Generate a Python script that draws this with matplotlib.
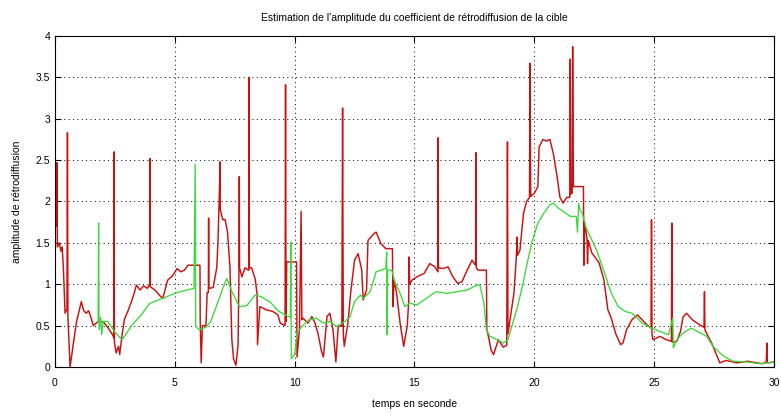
import numpy as np
import matplotlib
matplotlib.use("Agg")
import matplotlib.pyplot as plt

plt.rcParams['font.family'] = ['Liberation Sans', 'DejaVu Sans']

# amplitude estimate (raw), red trace
t_raw = [0.00, 0.03, 0.06, 0.08, 0.10, 0.18, 0.25, 0.30, 0.35, 0.42, 0.50, 0.52, 0.54,
         0.63, 0.75, 0.90, 1.10, 1.20, 1.30, 1.40, 1.50, 1.60, 1.80, 2.00, 2.20, 2.40,
         2.46, 2.47, 2.48, 2.55, 2.65, 2.70, 2.80, 2.90, 3.05, 3.20, 3.30, 3.40, 3.55,
         3.70, 3.85, 3.96, 3.97, 3.98, 4.17, 4.38, 4.50, 4.70, 4.90, 5.10, 5.25, 5.40,
         5.55, 5.76, 6.05, 6.06, 6.10, 6.15, 6.30, 6.35, 6.40, 6.41, 6.42, 6.60, 6.75,
         6.80, 6.87, 6.88, 6.90, 7.00, 7.10, 7.20, 7.30, 7.38, 7.45, 7.55, 7.64, 7.68,
         7.69, 7.70, 7.80, 7.93, 8.07, 8.09, 8.10, 8.11, 8.20, 8.35, 8.43, 8.45, 8.55,
         8.83, 9.10, 9.30, 9.40, 9.60, 9.62, 9.64, 9.67, 10.08, 10.10, 10.20, 10.27,
         10.30, 10.35, 10.55, 10.72, 10.85, 10.97, 11.12, 11.20, 11.35, 11.47, 11.60,
         11.72, 11.82, 11.97, 12.00, 12.03, 12.07, 12.22, 12.35, 12.50, 12.65, 12.80,
         12.86, 13.00, 13.06, 13.30, 13.40, 13.60, 13.80, 14.08, 14.10, 14.15, 14.25,
         14.40, 14.55, 14.70, 14.76, 14.77, 14.80, 14.90, 15.10, 15.40, 15.64, 15.85,
         15.98, 15.99, 16.00, 16.20, 16.40, 16.60, 16.80, 16.98, 17.20, 17.40, 17.55,
         17.56, 17.58, 17.65, 18.00, 18.02, 18.10, 18.20, 18.30, 18.50, 18.70, 18.85,
         18.88, 18.90, 19.00, 19.15, 19.25, 19.28, 19.30, 19.40, 19.55, 19.68, 19.80,
         19.82, 19.85, 20.00, 20.15, 20.20, 20.36, 20.50, 20.65, 20.80, 20.95, 21.07,
         21.20, 21.35, 21.48, 21.50, 21.52, 21.58, 21.60, 21.63, 22.05, 22.07, 22.10,
         22.20, 22.22, 22.25, 22.40, 22.70, 22.90, 23.07, 23.20, 23.40, 23.60, 23.70,
         23.85, 24.07, 24.30, 24.50, 24.70, 24.87, 24.89, 24.91, 24.95, 25.24, 25.50,
         25.72, 25.74, 25.76, 25.95, 26.10, 26.20, 26.35, 26.60, 26.90, 27.08, 27.10,
         27.12, 27.20, 27.40, 27.60, 27.74, 28.00, 28.45, 28.90, 29.10, 29.50, 29.68,
         29.70, 29.72, 30.00]
a_raw = [1.90, 1.98, 1.70, 2.47, 1.45, 1.50, 1.40, 1.45, 1.20, 0.65, 0.70, 2.83, 0.60,
         0.00, 0.25, 0.55, 0.79, 0.68, 0.65, 0.68, 0.60, 0.50, 0.55, 0.55, 0.48, 0.39,
         0.35, 2.60, 0.30, 0.17, 0.25, 0.15, 0.39, 0.58, 0.68, 0.80, 0.89, 0.99, 0.93,
         0.98, 0.95, 1.00, 2.52, 0.97, 0.93, 0.86, 0.83, 1.05, 1.10, 1.19, 1.15, 1.17,
         1.23, 1.23, 1.23, 0.55, 0.05, 0.50, 0.50, 0.90, 0.90, 1.80, 0.95, 0.96, 1.20,
         1.50, 2.22, 2.48, 1.90, 1.78, 1.78, 1.63, 1.21, 0.33, 0.10, 0.02, 0.27, 1.23,
         2.30, 1.20, 1.09, 1.20, 1.17, 1.17, 3.50, 1.20, 1.20, 1.07, 0.89, 0.27, 0.73,
         0.69, 0.67, 0.63, 0.53, 0.50, 3.41, 0.55, 1.27, 1.27, 0.12, 0.45, 1.88,
         0.57, 0.59, 0.53, 0.61, 0.53, 0.41, 0.19, 0.12, 0.61, 0.65, 0.45,
         0.06, 0.50, 0.49, 3.13, 0.40, 0.25, 0.53, 0.93, 1.29, 1.37, 1.17,
         0.81, 0.93, 1.53, 1.61, 1.63, 1.49, 1.43, 1.43, 0.73, 1.05, 0.90,
         0.53, 0.25, 0.50, 0.80, 1.33, 1.00, 1.05, 1.09, 1.13, 1.25, 1.21,
         1.15, 2.77, 1.20, 1.19, 1.21, 1.09, 1.01, 1.03, 1.17, 1.29, 1.23,
         2.59, 1.20, 1.17, 1.17, 0.45, 0.35, 0.20, 0.15, 0.33, 0.24, 0.26,
         2.72, 0.40, 0.60, 0.89, 1.33, 1.57, 1.35, 1.41, 1.86, 2.00, 2.05,
         3.67, 2.06, 2.10, 2.18, 2.66, 2.75, 2.73, 2.75, 2.57, 2.30, 2.05,
         1.98, 2.05, 2.05, 3.72, 2.09, 2.10, 3.87, 2.18, 2.18, 1.23, 1.75,
         1.55, 1.25, 1.53, 1.38, 1.26, 1.06, 0.69, 0.60, 0.40, 0.27, 0.29,
         0.45, 0.57, 0.63, 0.57, 0.51, 0.47, 1.78, 0.40, 0.33, 0.37, 0.33,
         0.31, 1.74, 0.30, 0.31, 0.43, 0.60, 0.65, 0.57, 0.51, 0.48, 0.91,
         0.45, 0.40, 0.29, 0.15, 0.05, 0.08, 0.05, 0.07, 0.06, 0.04, 0.06,
         0.29, 0.05, 0.06]

# filtered estimate, green trace
t_filt = [1.80, 1.82, 1.84, 1.90, 1.95, 2.00, 2.20, 2.50, 2.80, 3.20, 3.60, 3.96, 4.50,
          5.09, 5.50, 5.80, 5.85, 5.87, 6.00, 6.30, 6.50, 6.88, 7.00, 7.17, 7.40, 7.70,
          8.00, 8.35, 8.60, 9.00, 9.30, 9.67, 9.82, 9.84, 9.86, 10.00, 10.10, 10.30,
          10.60, 10.90, 11.20, 11.47, 11.75, 12.00, 12.30, 12.50, 12.75, 12.86, 13.15,
          13.40, 13.80, 13.84, 13.86, 13.88, 14.05, 14.20, 14.40, 14.60, 14.80, 15.10,
          15.50, 15.90, 16.35, 16.76, 17.20, 17.60, 17.73, 17.90, 17.95, 18.00, 18.15,
          18.45, 18.70, 18.90, 19.10, 19.30, 19.50, 19.70, 19.90, 20.15, 20.40, 20.65,
          20.80, 21.00, 21.20, 21.50, 21.75, 21.80, 21.85, 21.90, 22.00, 22.15, 22.20,
          22.60, 22.95, 23.20, 23.50, 23.80, 24.07, 24.30, 24.50, 24.90, 25.24, 25.60,
          25.78, 25.80, 25.95, 26.20, 26.55, 26.80, 27.20, 27.45, 27.90, 28.30, 28.90,
          29.40, 30.00]
a_filt = [0.55, 1.74, 0.45, 0.60, 0.39, 0.55, 0.55, 0.42, 0.33, 0.50, 0.63, 0.77, 0.83,
          0.90, 0.93, 0.95, 2.45, 0.50, 0.45, 0.48, 0.55, 0.85, 0.95, 1.07, 0.90, 0.73,
          0.74, 0.87, 0.85, 0.78, 0.68, 0.62, 0.60, 1.51, 0.10, 0.15, 0.41, 0.49,
          0.57, 0.59, 0.53, 0.55, 0.49, 0.53, 0.60, 0.79, 0.87, 0.83, 0.91,
          1.15, 1.19, 1.39, 0.39, 1.17, 1.17, 1.01, 0.89, 0.73, 0.77, 0.75,
          0.83, 0.91, 0.89, 0.91, 0.93, 0.99, 0.99, 0.77, 0.61, 0.45, 0.37,
          0.33, 0.29, 0.33, 0.53, 0.73, 0.97, 1.25, 1.51, 1.74, 1.86, 1.96,
          1.98, 1.92, 1.88, 1.82, 1.82, 1.63, 1.98, 1.90, 1.86, 1.69, 1.66,
          1.41, 1.12, 0.90, 0.73, 0.67, 0.65, 0.59, 0.53, 0.47, 0.43, 0.39,
          0.59, 0.23, 0.33, 0.41, 0.47, 0.43, 0.37, 0.25, 0.13, 0.07, 0.06,
          0.04, 0.06]

fig = plt.figure(figsize=(7.81, 4.16), dpi=100)
ax = fig.add_axes([0.0704, 0.1178, 0.9206, 0.7957])

ax.plot(t_raw, a_raw, color='#cc1010', lw=1.05)
ax.plot(t_filt, a_filt, color='#3ad83a', lw=0.95)

ax.set_xlim(0, 30)
ax.set_ylim(0, 4)
ax.set_xticks(np.arange(0, 31, 5))
ax.set_yticks(np.arange(0, 4.01, 0.5))
ax.set_yticklabels(['0', '0.5', '1', '1.5', '2', '2.5', '3', '3.5', '4'])
ax.tick_params(direction='in', top=True, right=True, labelsize=7.5, length=4, width=0.8)
ax.tick_params(axis='x', pad=8)
ax.grid(True, color='black', linestyle=(0, (1, 3.5)), linewidth=0.7)
for s in ax.spines.values():
    s.set_linewidth(0.8)

ax.set_title("Estimation de l'amplitude du coefficient de rétrodiffusion de la cible",
             fontsize=7.5, pad=11)
ax.set_xlabel("temps en seconde", fontsize=7.5, labelpad=8)
ax.set_ylabel("amplitude de rétrodiffusion", fontsize=7.5, labelpad=10)

fig.savefig("out.png", dpi=100)
